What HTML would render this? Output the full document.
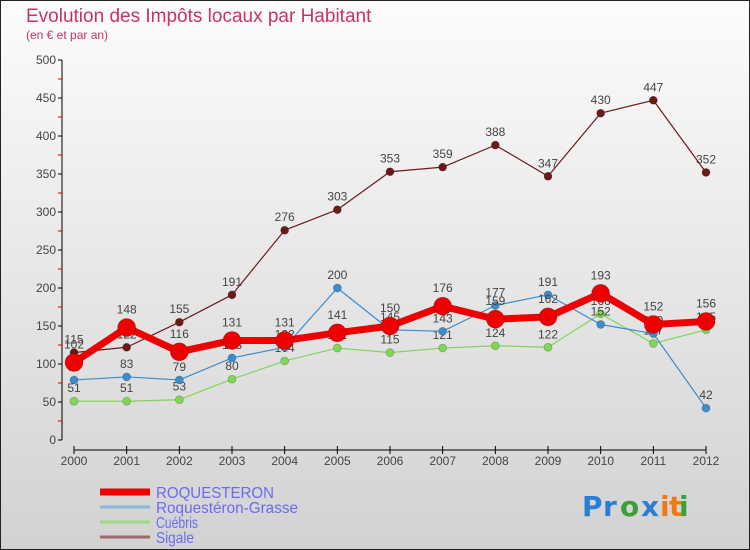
<!DOCTYPE html>
<html><head><meta charset="utf-8"><style>
body{margin:0;width:750px;height:550px;overflow:hidden;background:#fff}
svg{display:block;font-family:"Liberation Sans","DejaVu Sans",sans-serif}
</style></head><body>
<svg id="chart" width="750" height="550" viewBox="0 0 750 550">
<defs><linearGradient id="bg" x1="0" y1="0" x2="0" y2="1"><stop offset="0" stop-color="#fcfcfc"/><stop offset="1" stop-color="#d2d2d2"/></linearGradient></defs>
<rect x="0.5" y="0.5" width="749" height="549" fill="url(#bg)" stroke="#222" stroke-width="1"/>
<text x="26" y="22" font-size="19" fill="#c4336a">Evolution des Impôts locaux par Habitant</text>
<text x="26" y="39" font-size="12" fill="#c4336a">(en € et par an)</text>
<g id="axes"></g><g id="series"></g><g id="legend"></g>
<g font-size="28" font-weight="bold" font-family="'DejaVu Sans',sans-serif">
<text x="582" y="516" fill="#2a7fd4">P</text><text x="603" y="516" fill="#2a7fd4">r</text><text x="620" y="516" fill="#3aa03a">o</text><text x="641" y="516" fill="#2a7fd4">x</text><text x="660" y="516" fill="#f07a10">i</text><text x="669" y="516" fill="#f07a10">t</text><text x="679" y="516" fill="#3aa03a">i</text></g>
</svg>
<script>
const years=["2000","2001","2002","2003","2004","2005","2006","2007","2008","2009","2010","2011","2012"];
const yTicks=[0,50,100,150,200,250,300,350,400,450,500];
const roquesteron=[102,148,116,131,131,141,150,176,159,162,193,152,156];
const roqGrasse=[79,83,79,108,122,200,145,143,177,191,152,140,42];
const cuebris=[51,51,53,80,104,121,115,121,124,122,166,127,145];
const sigale=[115,122,155,191,276,303,353,359,388,347,430,447,352];
const NS="http://www.w3.org/2000/svg";
const x=i=>74+i*(706-74)/(years.length-1);
const y=v=>440-v*380/500;
function mk(t,a,p){const e=document.createElementNS(NS,t);for(const k in a)e.setAttribute(k,a[k]);p.appendChild(e);return e;}
const ax=document.getElementById('axes');
let e=mk('line',{x1:62,y1:60,x2:62,y2:440,stroke:'#000'},ax);


yTicks.forEach(v=>{
 mk('line',{x1:58,y1:y(v),x2:62,y2:y(v),stroke:'#000'},ax);
 if(v<500) mk('line',{x1:58,y1:y(v+25),x2:62,y2:y(v+25),stroke:'#d00'},ax);
 const t=mk('text',{x:56,y:y(v)+4,'font-size':12,fill:'#444','text-anchor':'end'},ax);t.textContent=v;
 
 
});
e=mk('line',{x1:74,y1:450,x2:706,y2:450,stroke:'#000'},ax);


years.forEach((yr,i)=>{
 mk('line',{x1:x(i),y1:446,x2:x(i),y2:454,stroke:'#000'},ax);
 const t=mk('text',{x:x(i),y:465,'font-size':12,fill:'#444','text-anchor':'middle'},ax);t.textContent=yr;
 
 
});
const sg=document.getElementById('series');
function series(data,color,w,r,name,labelBelow){
 const g=mk('g',{},sg);
 
 
 mk('polyline',{points:data.map((v,i)=>x(i)+','+y(v)).join(' '),fill:'none',stroke:color,'stroke-width':w,'stroke-linejoin':'round'},g);
 data.forEach((v,i)=>{
  const c=mk('circle',{cx:x(i),cy:y(v),r:r,fill:color,stroke:'rgba(0,0,0,0.25)','stroke-width':0.7},g);
  
  
  const t=mk('text',{x:x(i),y:y(v)-(r+5),'font-size':12,fill:'#444','text-anchor':'middle'},g);t.textContent=v;
  
  
 });
}
series(sigale,'#6b1a1a',1.2,4,'sigale-series');
series(cuebris,'#7fd657',1.2,4,'cuebris-series');
series(roqGrasse,'#3d8ccc',1.2,4,'roquesteron-grasse-series');
series(roquesteron,'#ee0000',7,9,'roquesteron-series');
const lg=document.getElementById('legend');
const names=["ROQUESTERON","Roquestéron-Grasse","Cuébris","Sigale"];
const cols=['#ee0000','#8ab8d8','#a0d880','#9a6a6a'];
const ws=[7,3,3,3];
names.forEach((n,i)=>{
 const yy=492+i*15;
 const g=mk('g',{},lg);
 
 
 mk('line',{x1:100,y1:yy,x2:150,y2:yy,stroke:cols[i],'stroke-width':ws[i]},g);
 const t=mk('text',{x:156,y:yy+6,'font-size':16,fill:'#6a6af0',textLength:[118,142,42,38][i],lengthAdjust:'spacingAndGlyphs'},g);t.textContent=n;
});
</script>
</body></html>
